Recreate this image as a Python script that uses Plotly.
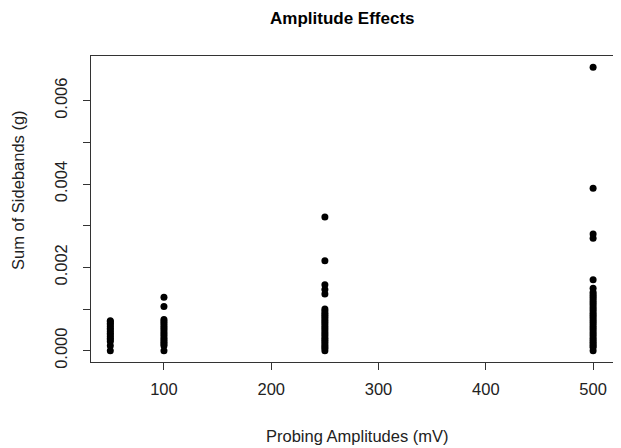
import plotly.graph_objects as go

# Data
amp_50 = [0.0, 0.00012, 0.00022, 0.00026, 0.0003, 0.00034, 0.00038, 0.00042, 0.00046,
          0.0005, 0.00054, 0.00058, 0.00062, 0.00066, 0.0007, 0.00072]
amp_100 = [0.0, 0.00012, 0.00016, 0.0002, 0.00025, 0.0003, 0.00035, 0.0004, 0.00045,
           0.0005, 0.00055, 0.0006, 0.00065, 0.0007, 0.00075, 0.00106, 0.00128]
amp_250 = [0.0, 0.00006, 0.0001, 0.00015, 0.0002, 0.00025, 0.0003, 0.00035, 0.0004,
           0.00045, 0.0005, 0.00055, 0.0006, 0.00065, 0.0007, 0.00075, 0.0008,
           0.00085, 0.0009, 0.00095, 0.001, 0.00136, 0.00147, 0.00158, 0.00216, 0.00321]
amp_500 = [0.0, 0.00008, 0.00012, 0.00016, 0.0002, 0.00025, 0.0003, 0.00035, 0.0004,
           0.00045, 0.0005, 0.00055, 0.0006, 0.00065, 0.0007, 0.00075, 0.0008, 0.00085,
           0.0009, 0.00095, 0.001, 0.00105, 0.0011, 0.00115, 0.0012, 0.00125, 0.0013,
           0.00135, 0.0014, 0.0015, 0.0017, 0.0027, 0.0028, 0.0039, 0.0068]

groups = [(50, amp_50), (100, amp_100), (250, amp_250), (500, amp_500)]
xs, ys = [], []
for amp, vals in groups:
    xs += [amp] * len(vals)
    ys += vals

x_tickvals = [100, 200, 300, 400, 500]
y_tickvals = [0.0, 0.001, 0.002, 0.003, 0.004, 0.005, 0.006]
y_ticktext = ["0.000", "", "0.002", "", "0.004", "", "0.006"]

FONT = "Liberation Sans, Arial, sans-serif"
TXT = "#222222"
FS = 16.5

# figure is drawn at an 8px page offset, so sizes are reduced accordingly
W, H = 613, 440
L, R, T, B = 83, 0, 48, 86
PW, PH = W - L - R, H - T - B


def px_to_paper_x(px):
    return (px - L) / PW


def px_to_paper_y(py):
    return (H - B - py) / PH


fig = go.Figure()
fig.add_trace(go.Scatter(
    x=xs, y=ys, mode="markers",
    marker=dict(color="black", size=7, line=dict(width=0)),
    showlegend=False, hoverinfo="x+y",
))

fig.update_layout(
    width=W, height=H,
    margin=dict(l=L, r=R, t=T, b=B, autoexpand=False),
    paper_bgcolor="white", plot_bgcolor="white",
    font=dict(family=FONT, size=FS, color=TXT),
    xaxis=dict(
        range=[32, 526], tickvals=x_tickvals, ticks="outside", ticklen=7,
        tickcolor="#333", showgrid=False, zeroline=False,
        showline=True, linecolor="#333", linewidth=1, mirror=True,
        ticklabelstandoff=5,
        tickfont=dict(family=FONT, size=FS, color=TXT),
    ),
    yaxis=dict(
        range=[-0.000272, 0.007072], tickvals=y_tickvals, ticktext=y_ticktext,
        ticks="outside", ticklen=7, tickcolor="#333", tickangle=-90,
        showgrid=False, zeroline=False,
        showline=True, linecolor="#333", linewidth=1, mirror=True,
        ticklabelstandoff=9,
        tickfont=dict(family=FONT, size=FS, color=TXT),
    ),
    annotations=[
        dict(text="<b>Amplitude Effects</b>", xref="paper", yref="paper",
             x=px_to_paper_x(334), y=px_to_paper_y(10), xanchor="center",
             yanchor="middle", showarrow=False, borderpad=0,
             font=dict(family=FONT, size=17, color="black")),
        dict(text="Probing Amplitudes (mV)", xref="paper", yref="paper",
             x=px_to_paper_x(349), y=px_to_paper_y(428), xanchor="center",
             yanchor="middle", showarrow=False,
             font=dict(family=FONT, size=FS, color=TXT)),
        dict(text="Sum of Sidebands (g)", xref="paper", yref="paper",
             x=px_to_paper_x(10), y=px_to_paper_y(182), xanchor="center",
             yanchor="middle", textangle=-90, showarrow=False,
             font=dict(family=FONT, size=FS, color=TXT)),
    ],
)

fig.write_html("out.html")
